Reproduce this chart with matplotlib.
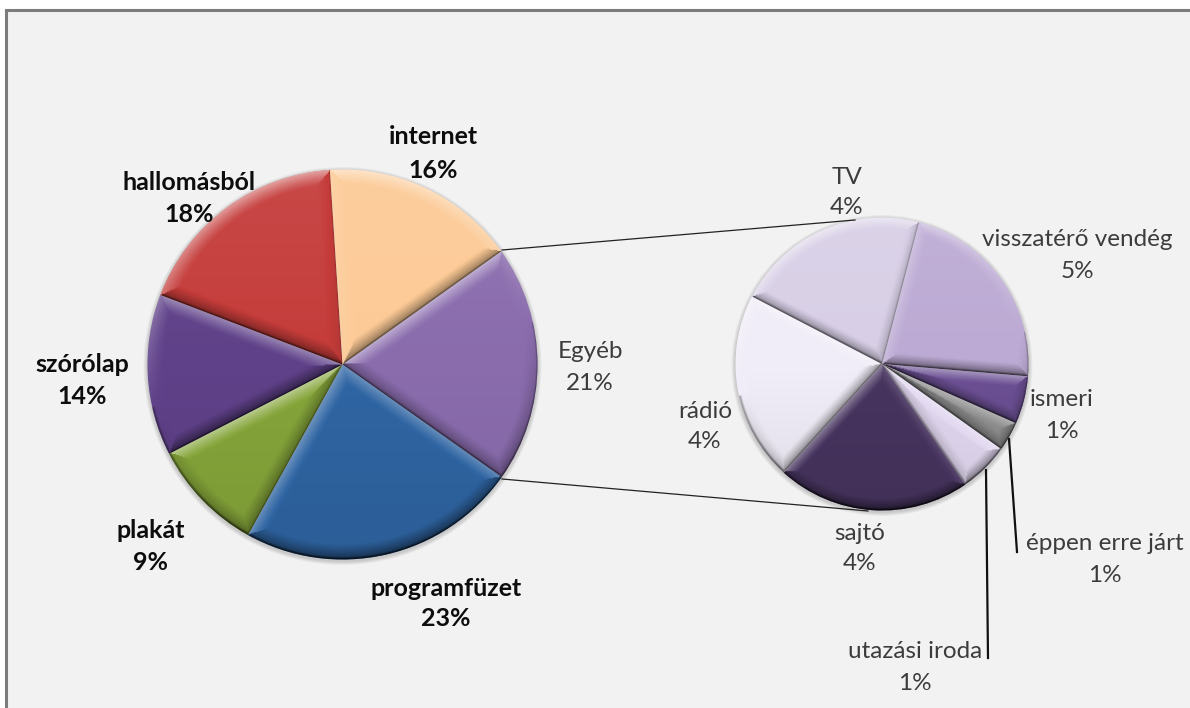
import numpy as np
import matplotlib
matplotlib.use("Agg")
import matplotlib.pyplot as plt
from matplotlib.patches import Rectangle, Circle

plt.rcParams['font.family'] = ['Lato', 'DejaVu Sans']

W, H = 1190, 708

# Main pie, clockwise from the upper right
main_names = ['Egyéb', 'programfüzet', 'plakát', 'szórólap', 'hallomásból', 'internet']
main_labels = ['21%', '23%', '9%', '14%', '18%', '16%']
main_values = [19.7, 23.3, 9.4, 13.4, 18.2, 16.2]
main_colors = ['#8a6cad', '#2f65a3', '#85a53a', '#5f4189', '#c43c3a', '#fcca96']

# Secondary pie, clockwise from the top
sub_names = ['visszatérő vendég', 'ismeri', 'éppen erre járt', 'utazási iroda', 'sajtó', 'rádió', 'TV']
sub_labels = ['5%', '1%', '1%', '1%', '4%', '4%', '4%']
sub_values = [4.68, 1.11, 0.68, 1.16, 4.48, 4.39, 4.50]
sub_colors = ['#bcaad4', '#6b4f93', '#8e8e8e', '#e2d8f0', '#47345f', '#f1edf8', '#d8cfe6']


def py(y):
    return H - y


fig = plt.figure(figsize=(W / 100, H / 100), dpi=100, facecolor='white')
ax = fig.add_axes([0, 0, 1, 1])

MAIN_C, MAIN_R, MAIN_START = (342.5, py(364.5)), 195, 35.5
SUB_C, SUB_R, SUB_START = (882, py(364)), 146.5, 75.4


def halo(center, r):
    for k in range(1, 6):
        ax.add_patch(Circle((center[0], center[1] - 1.5), r + k * 0.8, fc='black', ec='none',
                            alpha=0.035, zorder=1.5))


def bevel(w, width, strength):
    """Soft bevel lighting over one wedge, clipped to the wedge."""
    cx, cy = w.center
    r = w.r
    x = np.arange(cx - r - 2, cx + r + 2, 1.0)
    y = np.arange(cy - r - 2, cy + r + 2, 1.0)
    X, Y = np.meshgrid(x, y)
    dx, dy = X - cx, Y - cy
    rho = np.hypot(dx, dy) + 1e-6
    d_arc = r - rho
    t1, t2 = np.deg2rad(w.theta1), np.deg2rad(w.theta2)
    # distances to the two straight sides, with outward normals
    n1 = np.array([np.sin(t1), -np.cos(t1)])
    n2 = np.array([-np.sin(t2), np.cos(t2)])
    d1 = -(dx * n1[0] + dy * n1[1])
    d2 = -(dx * n2[0] + dy * n2[1])
    stack = np.stack([d_arc, d1, d2])
    idx = np.argmin(stack, axis=0)
    d = np.min(stack, axis=0)
    nx = np.choose(idx, [dx / rho, np.full_like(dx, n1[0]), np.full_like(dx, n2[0])])
    ny = np.choose(idx, [dy / rho, np.full_like(dx, n1[1]), np.full_like(dx, n2[1])])
    light = np.array([-0.25, 0.97])
    s = nx * light[0] + ny * light[1]
    fall = np.clip(1 - d / width, 0, 1) ** 1.2
    shade = s * fall * strength
    # overall top-to-bottom falloff
    shade = shade + (dy / r) * 0.07
    # dark seam along the rim of each wedge
    seam = np.clip(1 - d / 2.0, 0, 1) * 0.3
    rgba = np.zeros(X.shape + (4,))
    pos = shade > 0
    rgba[..., :3] = np.where(pos[..., None], 1.0, 0.0)
    alpha = np.abs(shade)
    rgba[..., 3] = np.clip(alpha + seam * (~pos), 0, 0.8)
    im = ax.imshow(rgba, origin='lower', extent=(x[0], x[-1], y[0], y[-1]),
                   interpolation='bilinear', zorder=3, aspect='auto')
    im.set_clip_path(w)


def draw_pie(values, colors, center, radius, start, width, strength):
    halo(center, radius)
    wedges, _ = ax.pie(values, colors=colors, center=center, radius=radius,
                       startangle=start, counterclock=False, frame=True,
                       wedgeprops=dict(linewidth=0, zorder=2))
    for w in wedges:
        bevel(w, width, strength)
    return wedges


ax.add_patch(Rectangle((6, -20), W + 20, py(10) + 20, fc='#f2f2f2', ec='#7c7c7c', lw=2.2, zorder=0))

draw_pie(main_values, main_colors, MAIN_C, MAIN_R, MAIN_START, 15, 0.46)
draw_pie(sub_values, sub_colors, SUB_C, SUB_R, SUB_START, 12, 0.46)

# leader lines between the pies and to the small slices
ax.plot([502, 855], [py(250), py(220)], color='#222222', lw=0.9, zorder=4)
ax.plot([502, 868], [py(479), py(511)], color='#222222', lw=0.9, zorder=4)
ax.plot([1009, 1017], [py(439), py(552)], color='#111111', lw=1.6, zorder=4)
ax.plot([986, 988], [py(470), py(658)], color='#111111', lw=1.6, zorder=4)

# x, y of first line, y of second line
bold_pos = {'programfüzet': (446, 588, 619), 'plakát': (151, 530, 562),
            'szórólap': (82, 364, 396), 'hallomásból': (189, 182, 214),
            'internet': (433, 137, 170)}
plain_pos = {'Egyéb': (590, 352, 383), 'visszatérő vendég': (1077, 239, 271),
             'ismeri': (1062, 400, 432), 'éppen erre járt': (1105, 544, 576),
             'utazási iroda': (915, 651, 683), 'sajtó': (860, 534, 564),
             'rádió': (705, 411, 442), 'TV': (847, 177, 208)}

for names, labels in ((main_names, main_labels), (sub_names, sub_labels)):
    for name, lab in zip(names, labels):
        if name in bold_pos:
            x, y1, y2 = bold_pos[name]
            kw = dict(color='#0d0d0d', fontweight='bold', fontsize=18)
        else:
            x, y1, y2 = plain_pos[name]
            kw = dict(color='#3c3c3c', fontsize=17.5)
        ax.text(x, py(y1), name, ha='center', va='center', zorder=5, **kw)
        ax.text(x, py(y2), lab, ha='center', va='center', zorder=5, **kw)

ax.set_xlim(0, W)
ax.set_ylim(0, H)
ax.set_aspect('auto')
ax.axis('off')
fig.savefig('out.png', dpi=100, facecolor='white')
